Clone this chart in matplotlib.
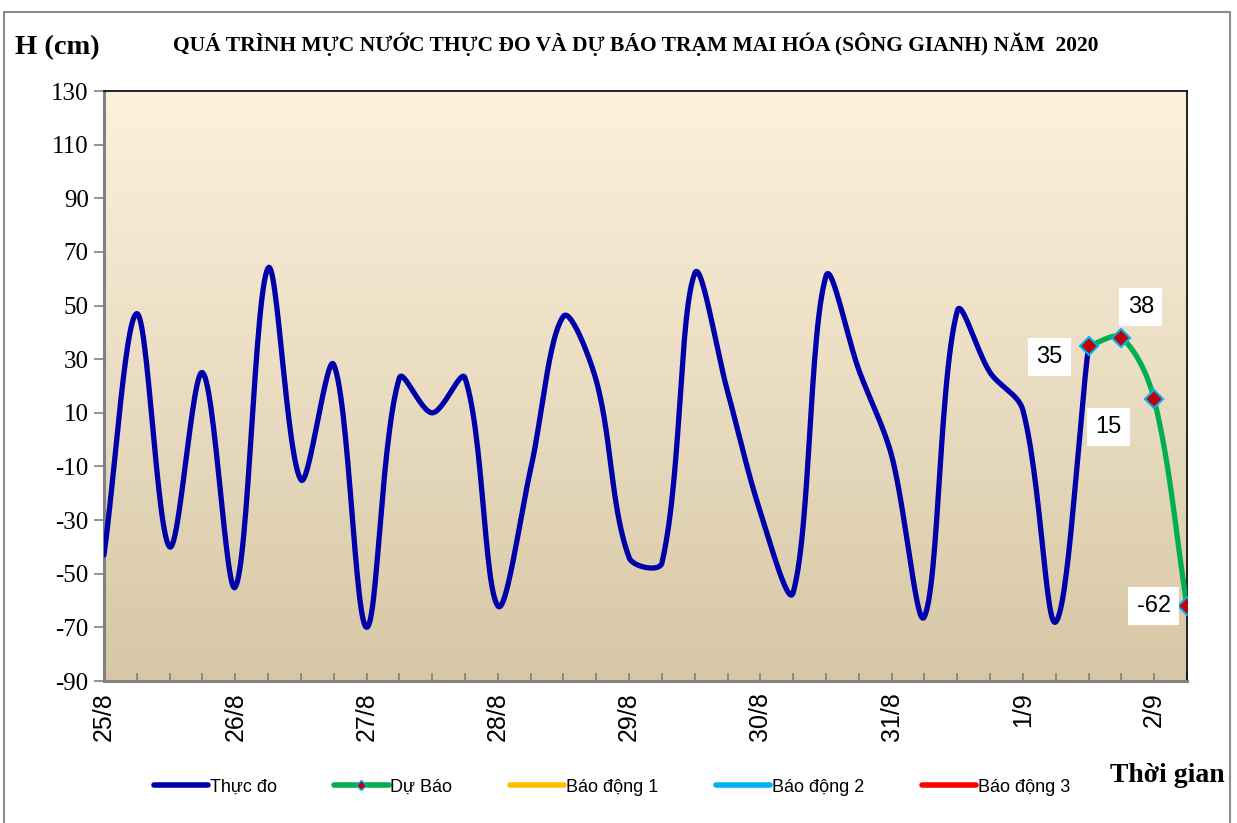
import numpy as np
import matplotlib
matplotlib.use('Agg')
from matplotlib import pyplot as plt

# muc nuoc thuc do, moi 6 gio tu 25/8 00h
thuc_do = [-43, 47, -40, 25, -55, 64, -15, 28, -70, 23, 10, 23, -62, -11, 46, 22,
           -44, -46, 62, 18, -27, -57, 61, 26, -6, -66, 48, 25, 11, -68, 35]
# du bao, bat dau tu 1/9 12h
du_bao = [35, 38, 15, -62]
day_labels = ['25/8', '26/8', '27/8', '28/8', '29/8', '30/8', '31/8', '1/9', '2/9']
y_ticks = list(range(-90, 131, 20))

x_td = np.arange(len(thuc_do)) * 0.25
x_db = (np.arange(len(du_bao)) + len(thuc_do) - 1) * 0.25

PX_X = 131.0   # px / ngay
PX_Y = 2.682   # px / cm


def smooth(x, y, n=30):
    # duong cong kieu Excel: Bezier, tiep tuyen chia theo do dai doan
    p = np.column_stack([np.asarray(x, float) * PX_X, np.asarray(y, float) * PX_Y])
    m = len(p)
    t = np.linspace(0, 1, n)[:, None]
    out = []
    for i in range(m - 1):
        p0, p3 = p[i], p[i + 1]
        seg = np.linalg.norm(p3 - p0)
        if i > 0:
            tan = p[i + 1] - p[i - 1]
            prev = np.linalg.norm(p[i] - p[i - 1])
            c1 = p0 + tan * seg / (seg + prev) / 3
        else:
            c1 = p0 + (p3 - p0) / 3
        if i + 2 < m:
            tan = p[i + 2] - p[i]
            nxt = np.linalg.norm(p[i + 2] - p[i + 1])
            c2 = p3 - tan * seg / (seg + nxt) / 3
        else:
            c2 = p3 - (p3 - p0) / 3
        b = (1 - t) ** 3 * p0 + 3 * (1 - t) ** 2 * t * c1 + 3 * (1 - t) * t ** 2 * c2 + t ** 3 * p3
        out.append(b)
    out = np.concatenate(out)
    return out[:, 0] / PX_X, out[:, 1] / PX_Y


fig = plt.figure(figsize=(12.37, 8.23), dpi=100)
fig.patch.set_facecolor('white')
ax = fig.add_axes([104 / 1237, 1 - 681 / 823, (1187 - 104) / 1237, (681 - 91) / 823])

# nen chuyen mau
grad = np.linspace(0, 1, 256)[:, None]
top = np.array([253, 241, 222]) / 255
bot = np.array([214, 200, 165]) / 255
img = top[None, None, :] * (1 - grad[:, :, None]) + bot[None, None, :] * grad[:, :, None]
ax.imshow(img, extent=[0, 1, 0, 1], transform=ax.transAxes, aspect='auto', zorder=0)

sx, sy = smooth(x_td, thuc_do)
ax.plot(sx, sy, color='#0000AA', lw=3.8, solid_capstyle='round', zorder=3)
dx, dy = smooth(x_db, du_bao)
ax.plot(dx, dy, color='#00B050', lw=3.8, solid_capstyle='round', zorder=3)
ax.plot(x_db, du_bao, ls='none', marker='D', ms=9, mfc='#C00000', mec='#00B0F0', mew=1.5, zorder=4)

offsets = [(-28, -8), (14, 22), (-33, -20), (-24, 0)]
for xv, yv, off in zip(x_db, du_bao, offsets):
    ax.annotate(str(yv), (xv, yv), xytext=off, textcoords='offset points', ha='center', va='center',
                fontsize=17, family='Liberation Sans', zorder=5,
                bbox=dict(boxstyle='square,pad=0.35', fc='white', ec='none'))

ax.set_xlim(0, 8.25)
ax.set_ylim(-90, 130)
ax.set_yticks(y_ticks)
ax.set_yticklabels([str(v) for v in y_ticks], family='Liberation Serif', fontsize=18)
ax.set_xticks(range(len(day_labels)))
ax.set_xticklabels(day_labels, rotation=90, family='Liberation Sans', fontsize=18)
ax.set_xticks(np.arange(0, 8.26, 0.25), minor=True)
ax.tick_params(axis='y', direction='out', length=7, width=1.2, color='#808080', pad=4)
ax.tick_params(axis='x', which='both', direction='in', length=6, width=1.2, color='#808080', pad=8)
for s in ['left', 'bottom']:
    ax.spines[s].set_color('#808080')
    ax.spines[s].set_linewidth(2.2)
for s in ['top', 'right']:
    ax.spines[s].set_color('black')
    ax.spines[s].set_linewidth(1.2)

fig.text(15 / 1237, 1 - 48 / 823, 'H (cm)', family='Liberation Serif', fontweight='bold', fontsize=20.5,
         ha='left', va='center')
fig.text(636 / 1237, 1 - 44 / 823,
         'QUÁ TRÌNH MỰC NƯỚC THỰC ĐO VÀ DỰ BÁO TRẠM MAI HÓA (SÔNG GIANH) NĂM  2020',
         family='Liberation Serif', fontweight='bold', fontsize=15.5, ha='center', va='center')
fig.text(1225 / 1237, 1 - 775 / 823, 'Thời gian', family='Liberation Serif', fontweight='bold',
         fontsize=20, ha='right', va='center')

h1, = ax.plot([], [], color='#0000AA', lw=4, solid_capstyle='round')
h2, = ax.plot([], [], color='#00B050', lw=4, marker='D', ms=5, mfc='#C00000', mec='#00B0F0',
              solid_capstyle='round')
h3, = ax.plot([], [], color='#FFC000', lw=4, solid_capstyle='round')
h4, = ax.plot([], [], color='#00B0F0', lw=4, solid_capstyle='round')
h5, = ax.plot([], [], color='#FF0000', lw=4, solid_capstyle='round')
fig.legend([h1, h2, h3, h4, h5], ['Thực đo', 'Dự Báo', 'Báo động 1', 'Báo động 2', 'Báo động 3'],
           loc='center', bbox_to_anchor=(612 / 1237, 1 - 787 / 823), ncol=5, frameon=False,
           prop={'family': 'Liberation Sans', 'size': 13}, handlelength=3.0, handletextpad=0.1,
           columnspacing=3.2)

# khung ngoai
fig.add_artist(plt.Rectangle((4 / 1237, -0.01), 1226 / 1237, 1 - 12 / 823 + 0.01, transform=fig.transFigure,
                             fill=False, ec='#8C8C8C', lw=1.5))

fig.savefig('out.png', dpi=100)
